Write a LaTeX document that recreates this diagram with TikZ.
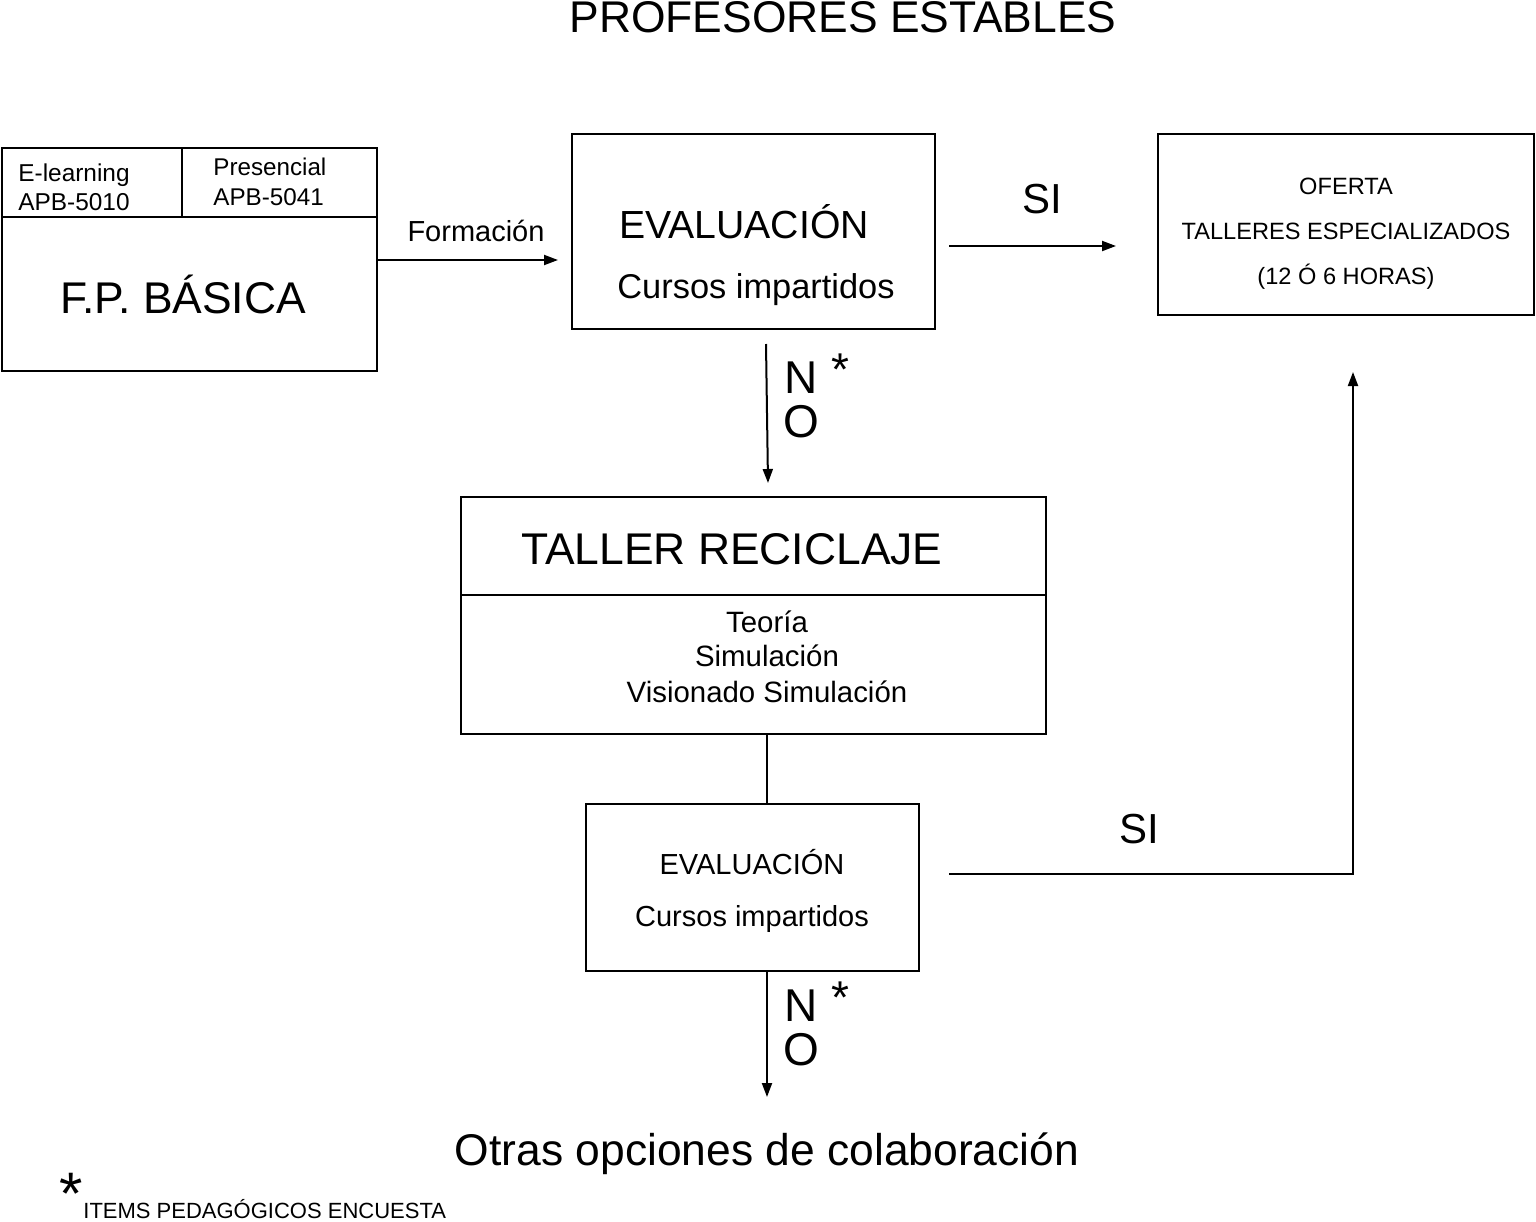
\documentclass[tikz,border=0pt]{standalone}
\usepackage{fontspec}
\setmainfont{Liberation Sans}
\usetikzlibrary{arrows.meta}
\begin{document}
\begin{tikzpicture}[x=0.5pt,y=-0.5pt,
  box/.style={draw,line width=1pt},
  arr/.style={line width=1pt,-{Triangle[length=7pt,width=5pt]}},
  ln/.style={line width=1pt},
  t/.style={inner sep=0pt,anchor=base}]
\useasboundingbox (0,0) rectangle (1536,1221);
\node[t] (title) at (843,32) {\fontsize{22.2}{24}\selectfont PROFESORES ESTABLES};
% FP box
\draw[box] (2,148) rectangle (377,371);
\draw[ln] (2,217) -- (377,217) (182,148) -- (182,217);
\node[t,anchor=base west] (el) at (18,181) {\fontsize{12.2}{15}\selectfont E-learning};
\node[t,anchor=base west] (el2) at (18,210) {\fontsize{12.2}{15}\selectfont APB-5010};
\node[t,anchor=base west] (pr) at (213,175) {\fontsize{12.1}{15}\selectfont Presencial};
\node[t,anchor=base west] (pr2) at (213,205) {\fontsize{12.1}{15}\selectfont APB-5041};
\node[t] (fp) at (183,313) {\fontsize{22.2}{26}\selectfont F.P. BÁSICA};
% Eval1
\draw[box] (572,134) rectangle (935,329);
\node[t] (ev1) at (744,238) {\fontsize{19.6}{24}\selectfont EVALUACIÓN};
\node[t] (cu1) at (756,298) {\fontsize{17.2}{20}\selectfont Cursos impartidos};
% Oferta
\draw[box] (1158,134) rectangle (1534,315);
\node[t] (of1) at (1346,194) {\fontsize{11.8}{14}\selectfont OFERTA};
\node[t] (of2) at (1346,239) {\fontsize{11.8}{14}\selectfont TALLERES ESPECIALIZADOS};
\node[t] (of3) at (1346,284) {\fontsize{11.8}{14}\selectfont (12 Ó 6 HORAS)};
% Taller
\draw[box] (461,497) rectangle (1046,734);
\draw[ln] (461,595) -- (1046,595);
\node[t] (ta) at (732,564) {\fontsize{22.2}{28}\selectfont TALLER RECICLAJE};
\node[t] (t1) at (767,632) {\fontsize{14.7}{17}\selectfont Teoría};
\node[t] (t2) at (767,666) {\fontsize{14.7}{17}\selectfont Simulación};
\node[t] (t3) at (767,702) {\fontsize{14.7}{17}\selectfont Visionado Simulación};
% Eval2
\draw[box] (586,804) rectangle (919,971);
\node[t] (ev2) at (752,874) {\fontsize{14.5}{17}\selectfont EVALUACIÓN};
\node[t] (cu2) at (752,926) {\fontsize{14.5}{17}\selectfont Cursos impartidos};
% arrows
\coordinate (a1) at (377,260); \coordinate (a2) at (558,260);
\draw[arr] (a1) -- (a2);
\node[t] (form) at (476,241) {\fontsize{14.5}{17}\selectfont Formación};
\coordinate (b1) at (949,246); \coordinate (b2) at (1116,246);
\draw[arr] (b1) -- (b2);
\node[t] (si1) at (1042,213) {\fontsize{21}{24}\selectfont SI};
\coordinate (c1) at (766,344); \coordinate (c2) at (768,483);
\draw[arr] (c1) -- (c2);
\node[t] (n1) at (801,393) {\fontsize{23}{26}\selectfont N};
\node[t] (o1) at (801,437) {\fontsize{23}{26}\selectfont O};
\node[t] (s1) at (840,385) {\fontsize{23}{26}\selectfont *};
\coordinate (d1) at (767,734); \coordinate (d2) at (767,804);
\draw[ln] (d1) -- (d2);
\coordinate (e1) at (949,874); \coordinate (e2) at (1353,874); \coordinate (e3) at (1353,372);
\draw[arr] (e1) -- (e2) -- (e3);
\node[t] (si2) at (1139,843) {\fontsize{21}{24}\selectfont SI};
\coordinate (f1) at (767,971); \coordinate (f2) at (767,1097);
\draw[arr] (f1) -- (f2);
\node[t] (n2) at (801,1021) {\fontsize{23}{26}\selectfont N};
\node[t] (o2) at (801,1065) {\fontsize{23}{26}\selectfont O};
\node[t] (s2) at (840,1013) {\fontsize{23}{26}\selectfont *};
\node[t] (otras) at (767,1165) {\fontsize{22.2}{26}\selectfont Otras opciones de colaboración};
\node[t] (ast) at (71,1214) {\fontsize{30}{30}\selectfont *};
\node[t,anchor=base west] (items) at (83,1218) {\fontsize{11}{12}\selectfont ITEMS PEDAGÓGICOS ENCUESTA};
\end{tikzpicture}
\end{document}
